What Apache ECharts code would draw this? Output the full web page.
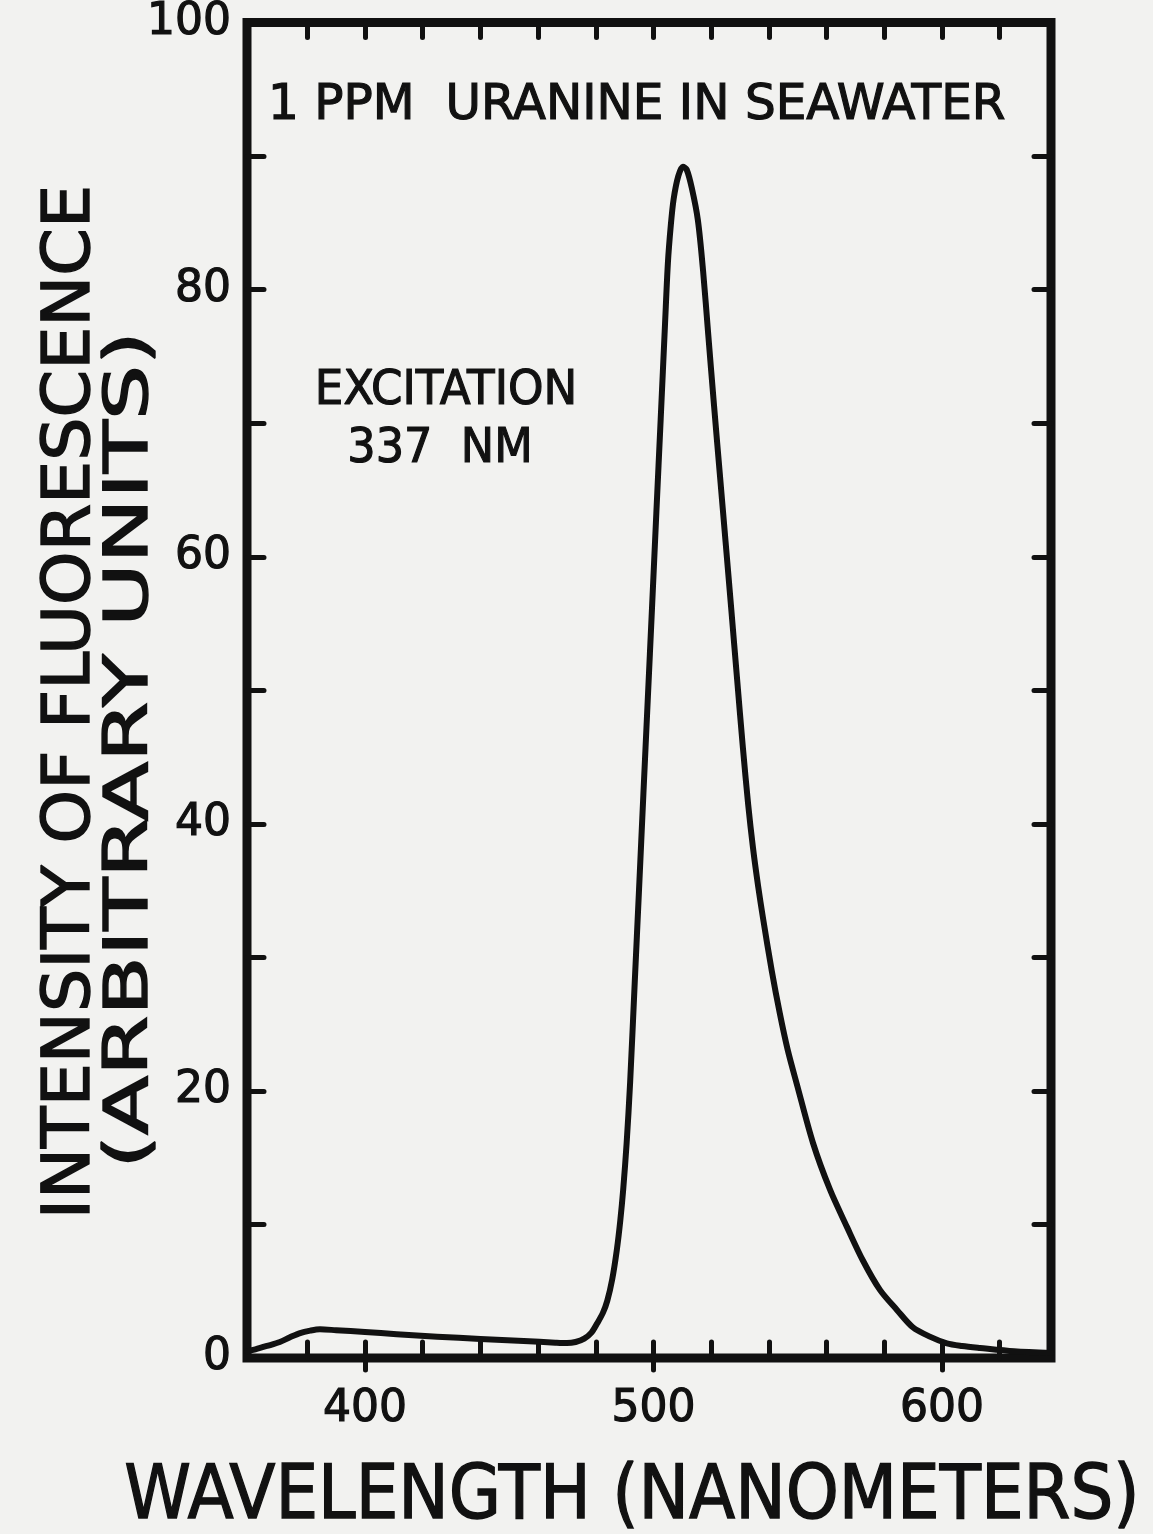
<!DOCTYPE html>
<html>
<head>
<meta charset="utf-8">
<script src="https://cdn.jsdelivr.net/npm/echarts@6/dist/echarts.min.js"></script>
<style>
html,body{margin:0;padding:0;background:#f2f2f0;}
#chart{width:1153px;height:1534px;}
</style>
</head>
<body>
<div id="chart"></div>
<script>
// ---- data ----
const wavelength = [359.1, 362, 366, 370.5, 374, 377.5, 381, 384.4, 390, 400, 411, 425, 440, 455, 466, 470, 473, 476, 478.5, 480.5, 482.5, 484, 485.7, 487.3, 488.5, 489.5, 490.7, 491.9, 493.5, 495, 496.5, 498, 499.5, 501, 502.5, 504, 505, 506, 507, 508.6, 510.2, 511.5, 513.3, 515.4, 517.2, 519, 521, 523, 525, 527, 529, 531, 532.8, 534.5, 536.3, 538, 541, 543.8, 546.5, 549.7, 555.3, 561.2, 567.1, 572.6, 578.5, 584.4, 589.9, 595.8, 601.7, 607, 613.2, 625, 637.8];
const intensity = [0.5, 0.65, 0.9, 1.2, 1.55, 1.87, 2.05, 2.15, 2.08, 1.95, 1.78, 1.6, 1.42, 1.27, 1.15, 1.12, 1.2, 1.45, 1.9, 2.6, 3.4, 4.3, 5.9, 8.1, 10.3, 12.6, 16.1, 20.6, 28.1, 35.1, 42.2, 49.2, 56.2, 63.3, 70.3, 77.4, 82.0, 84.8, 86.8, 88.5, 89.2, 89.0, 87.6, 85.2, 81.4, 76.6, 71.3, 66.2, 61.1, 56.0, 50.8, 45.7, 41.5, 38.2, 35.3, 32.9, 29.0, 25.8, 23.1, 20.5, 16.1, 12.6, 9.8, 7.3, 5.1, 3.6, 2.3, 1.6, 1.1, 0.9, 0.75, 0.5, 0.37];
const xTickValues = [380, 400, 420, 440, 460, 480, 500, 520, 540, 560, 580, 600, 620];
const xLabelValues = [400, 500, 600];
const yTickValues = [10, 20, 30, 40, 50, 60, 70, 80, 90];
const yLabelValues = [0, 20, 40, 60, 80, 100];
const titleText = '1 PPM  URANINE IN SEAWATER';
const noteLines = ['EXCITATION', '337  NM'];
const xName = 'WAVELENGTH (NANOMETERS)';
const yNameLines = ['INTENSITY OF FLUORESCENCE', '(ARBITRARY UNITS)'];
const xMin = 359.1, xMax = 637.8, yMin = 0, yMax = 100;

const FONT = 'DejaVu Sans';
const INK = '#111';

const chart = echarts.init(document.getElementById('chart'), null, {renderer: 'canvas'});

function txt(text, x, y, size, opts) {
  opts = opts || {};
  return {
    type: 'text', x: x, y: y,
    rotation: opts.rotation || 0,
    scaleX: opts.scaleX || 1,
    style: {
      text: text, fill: INK, font: 'normal ' + size + 'px "' + FONT + '"',
      textAlign: opts.align || 'center', textVerticalAlign: 'middle',
      stroke: INK, lineWidth: opts.stroke == null ? 1.2 : opts.stroke
    },
    z: 100
  };
}

const tickStyle = {color: INK, width: 5, cap: 'round'};
const labelStyle = {fontFamily: FONT, fontSize: 44, color: INK, textBorderColor: INK, textBorderWidth: 1.2};

const option = {
  backgroundColor: '#f2f2f0',
  animation: false,
  grid: {left: 247, right: 102, top: 22, bottom: 176, show: true, borderColor: INK, borderWidth: 9, backgroundColor: 'transparent'},
  xAxis: [
    {
      type: 'value', position: 'bottom', min: xMin, max: xMax,
      axisLine: {show: false}, splitLine: {show: false},
      axisTick: {show: true, inside: true, length: 16, lineStyle: tickStyle, customValues: xTickValues},
      axisLabel: Object.assign({show: true, margin: 30, customValues: xLabelValues}, labelStyle)
    },
    {
      type: 'value', position: 'bottom', min: xMin, max: xMax,
      axisLine: {show: false}, splitLine: {show: false},
      axisTick: {show: true, inside: false, length: 12, lineStyle: tickStyle, customValues: xLabelValues},
      axisLabel: {show: false}
    },
    {
      type: 'value', position: 'top', min: xMin, max: xMax,
      axisLine: {show: false}, splitLine: {show: false},
      axisTick: {show: true, inside: true, length: 15, lineStyle: tickStyle, customValues: xTickValues},
      axisLabel: {show: false}
    }
  ],
  yAxis: [
    {
      type: 'value', position: 'left', min: yMin, max: yMax,
      axisLine: {show: false}, splitLine: {show: false},
      axisTick: {show: true, inside: true, length: 17, lineStyle: tickStyle, customValues: yTickValues},
      axisLabel: Object.assign({show: true, margin: 16, customValues: yLabelValues}, labelStyle)
    },
    {
      type: 'value', position: 'right', min: yMin, max: yMax,
      axisLine: {show: false}, splitLine: {show: false},
      axisTick: {show: true, inside: true, length: 17, lineStyle: tickStyle, customValues: yTickValues},
      axisLabel: {show: false}
    }
  ],
  series: [{
    type: 'line', xAxisIndex: 0, yAxisIndex: 0,
    data: wavelength.map((w, i) => [w, intensity[i]]),
    smooth: 0.3, showSymbol: false, symbol: 'none',
    lineStyle: {color: INK, width: 6, cap: 'round', join: 'round'},
    clip: true
  }],
  graphic: [
    txt(titleText, 268, 106, 49, {align: 'left', scaleX: 0.99}),
    txt(noteLines[0], 446, 392, 48, {scaleX: 0.94}),
    txt(noteLines[1], 440, 450, 48, {scaleX: 0.93}),
    txt(xName, 632, 1499, 75, {scaleX: 0.9, stroke: 1.4}),
    txt(yNameLines[0], 72, 702, 65, {rotation: Math.PI / 2, scaleX: 1.05, stroke: 1.4}),
    txt(yNameLines[1], 131, 750, 61, {rotation: Math.PI / 2, scaleX: 1.42, stroke: 1.4})
  ]
};
chart.setOption(option);
</script>
</body>
</html>
